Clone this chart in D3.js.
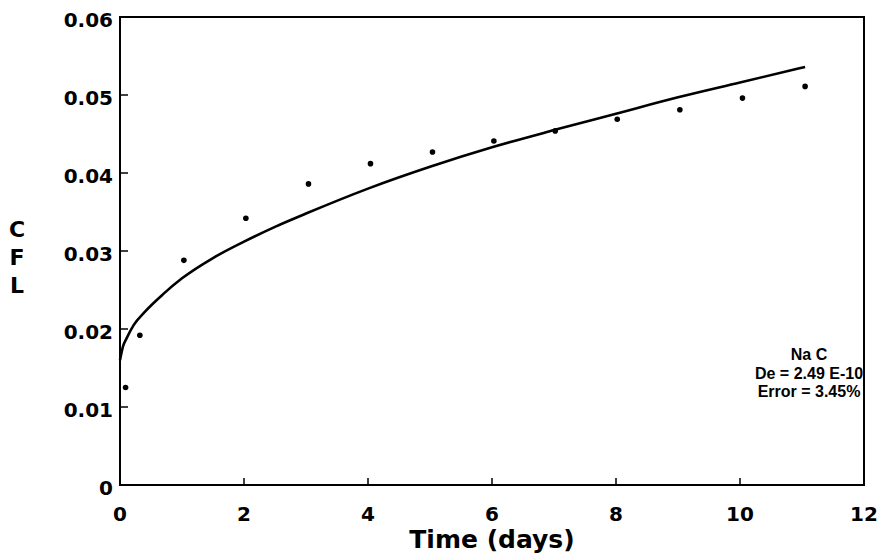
<!DOCTYPE html>
<html>
<head>
<meta charset="utf-8">
<script src="https://cdn.jsdelivr.net/npm/d3@7"></script>
<style>
  html, body { margin: 0; padding: 0; background: #fff; }
  svg { display: block; }
</style>
</head>
<body>
<div id="chart"></div>
<script>
const WIDTH = 877;
const HEIGHT = 559;

// measured points (days, CFL)
const obsDays = [0.09, 0.32, 1.03, 2.03, 3.04, 4.04, 5.04, 6.03, 7.02, 8.02, 9.03, 10.04, 11.05];
const obsCfl  = [0.0125, 0.0192, 0.0288, 0.0342, 0.0386, 0.0412, 0.0427, 0.0441, 0.0454, 0.0469, 0.0481, 0.0496, 0.0511];

// fitted curve
const fitDays = [0, 0.05, 0.1, 0.22, 0.4, 0.7, 1.0, 1.5, 2.0, 2.5, 3.0, 4.0, 5.0, 6.0, 7.0, 8.0, 9.0, 10.0, 11.05];
const fitCfl  = [0.0160, 0.0178, 0.0187, 0.0205, 0.0222, 0.0245, 0.0265, 0.0291, 0.0312, 0.0331, 0.0348, 0.0380, 0.0408, 0.0433, 0.0455, 0.0476, 0.0497, 0.0516, 0.0536];

const xTicks = [0, 2, 4, 6, 8, 10, 12];
const yTicks = [0, 0.01, 0.02, 0.03, 0.04, 0.05, 0.06];
const noteLines = ['Na C', 'De = 2.49 E-10', 'Error = 3.45%'];

const margin = { top: 17, right: 13, bottom: 74, left: 120 };
const w = WIDTH - margin.left - margin.right;
const h = HEIGHT - margin.top - margin.bottom;

const x = d3.scaleLinear().domain([0, 12]).range([0, w]);
const y = d3.scaleLinear().domain([0, 0.06]).range([h, 0]);

const svg = d3.select('#chart').append('svg')
  .attr('width', WIDTH)
  .attr('height', HEIGHT);

const g = svg.append('g').attr('transform', `translate(${margin.left},${margin.top})`);

const tickFont = '"DejaVu Sans", sans-serif';

// frame
g.append('rect')
  .attr('width', w).attr('height', h)
  .attr('fill', 'none')
  .attr('stroke', '#000')
  .attr('stroke-width', 2);

// inward ticks (inner values only)
g.append('g').selectAll('line')
  .data(yTicks.slice(1, -1))
  .join('line')
  .attr('x1', 0).attr('x2', 8)
  .attr('y1', d => y(d)).attr('y2', d => y(d))
  .attr('stroke', '#000').attr('stroke-width', 1.5);

g.append('g').selectAll('line')
  .data(xTicks.slice(1, -1))
  .join('line')
  .attr('y1', h).attr('y2', h - 7)
  .attr('x1', d => x(d)).attr('x2', d => x(d))
  .attr('stroke', '#000').attr('stroke-width', 1.5);

// tick labels
g.append('g').selectAll('text')
  .data(yTicks)
  .join('text')
  .attr('x', -7)
  .attr('y', d => y(d) + 10)
  .attr('text-anchor', 'end')
  .attr('font-family', tickFont)
  .attr('font-weight', 'bold')
  .attr('font-size', 20)
  .text(d => d === 0 ? '0' : d3.format('.2f')(d));

g.append('g').selectAll('text')
  .data(xTicks)
  .join('text')
  .attr('x', d => x(d))
  .attr('y', h + 36)
  .attr('text-anchor', 'middle')
  .attr('font-family', tickFont)
  .attr('font-weight', 'bold')
  .attr('font-size', 20)
  .text(d => d);

// axis titles
svg.append('text')
  .attr('x', margin.left + w / 2)
  .attr('y', 548)
  .attr('text-anchor', 'middle')
  .attr('font-family', tickFont)
  .attr('font-weight', 'bold')
  .attr('font-size', 25)
  .text('Time (days)');

svg.append('g').selectAll('text')
  .data(['C', 'F', 'L'])
  .join('text')
  .attr('x', 17)
  .attr('y', (d, i) => 237 + i * 28)
  .attr('text-anchor', 'middle')
  .attr('font-family', tickFont)
  .attr('font-weight', 'bold')
  .attr('font-size', 22)
  .text(d => d);

// fitted curve
const fit = fitDays.map((d, i) => [d, fitCfl[i]]);
g.append('path')
  .datum(fit)
  .attr('fill', 'none')
  .attr('stroke', '#000')
  .attr('stroke-width', 2.6)
  .attr('d', d3.line().x(d => x(d[0])).y(d => y(d[1])).curve(d3.curveMonotoneX));

// observed points
g.append('g').selectAll('circle')
  .data(obsDays.map((d, i) => [d, obsCfl[i]]))
  .join('circle')
  .attr('cx', d => x(d[0]))
  .attr('cy', d => y(d[1]))
  .attr('r', 2.8)
  .attr('fill', '#000');

// annotation
g.append('g').selectAll('text')
  .data(noteLines)
  .join('text')
  .attr('x', 809 - margin.left)
  .attr('y', (d, i) => 360 - margin.top + i * 18.5)
  .attr('text-anchor', 'middle')
  .attr('font-family', '"Liberation Sans", Arial, sans-serif')
  .attr('font-weight', 'bold')
  .attr('font-size', 16)
  .text(d => d);
</script>
</body>
</html>
